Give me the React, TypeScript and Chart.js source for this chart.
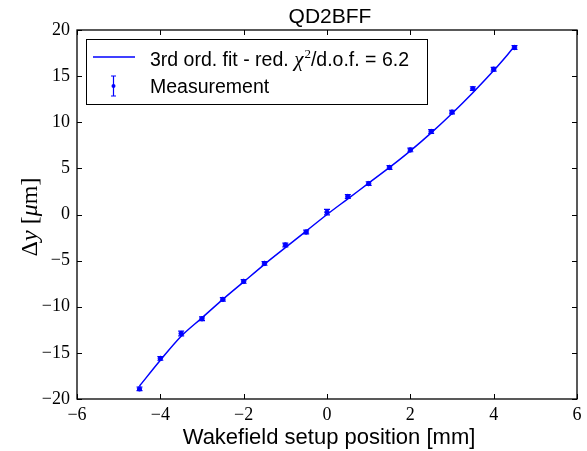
import { useEffect, useRef } from "react";
import { Chart, registerables } from "chart.js";
Chart.register(...registerables);

const positions = [-4.5, -4.0, -3.5, -3.0, -2.5, -2.0, -1.5, -1.0, -0.5, 0.0, 0.5, 1.0, 1.5, 2.0, 2.5, 3.0, 3.5, 4.0, 4.5];
const measured = [-18.9, -15.6, -12.9, -11.3, -9.2, -7.25, -5.3, -3.3, -1.9, 0.25, 1.95, 3.35, 5.1, 7.0, 9.0, 11.1, 13.65, 15.75, 18.1];
const errors = [0.2, 0.2, 0.25, 0.2, 0.2, 0.2, 0.2, 0.2, 0.2, 0.3, 0.2, 0.2, 0.2, 0.2, 0.2, 0.2, 0.2, 0.2, 0.2];
const fitPositions = [-4.5, -4.0, -3.5, -3.0, -2.5, -2.0, -1.5, -1.0, -0.5, 0.0, 0.5, 1.0, 1.5, 2.0, 2.5, 3.0, 3.5, 4.0, 4.5];
const fitValues = [-18.6, -15.8, -13.2, -11.2, -9.2, -7.3, -5.4, -3.6, -1.8, 0.0, 1.7, 3.4, 5.1, 6.9, 8.85, 10.95, 13.2, 15.6, 18.2];
const xTicks = [-6, -4, -2, 0, 2, 4, 6];
const yTicks = [-20, -15, -10, -5, 0, 5, 10, 15, 20];

const titleText = "QD2BFF";
const xTitle = "Wakefield setup position [mm]";
const fitLabelA = "3rd ord. fit - red. ";
const fitLabelB = "/d.o.f. = 6.2";
const measLabel = "Measurement";

const BLUE = "#0000ff";
const SERIF = "'Liberation Serif', 'DejaVu Serif', serif";
const SANS = "'Liberation Sans', Arial, sans-serif";

const fmt = (v: number) => (v < 0 ? "\u2212" + Math.abs(v) : String(v));

const overlay = {
  id: "overlay",
  afterDatasetsDraw(chart: any) {
    const ctx = chart.ctx;
    const xs = chart.scales.x;
    const ys = chart.scales.y;
    const a = chart.chartArea;
    ctx.save();
    // error bars
    ctx.strokeStyle = BLUE;
    ctx.lineWidth = 1.2;
    positions.forEach((p, i) => {
      const px = xs.getPixelForValue(p);
      const y1 = ys.getPixelForValue(measured[i] - errors[i]);
      const y2 = ys.getPixelForValue(measured[i] + errors[i]);
      ctx.beginPath();
      ctx.moveTo(px, y1);
      ctx.lineTo(px, y2);
      ctx.moveTo(px - 3, y1);
      ctx.lineTo(px + 3, y1);
      ctx.moveTo(px - 3, y2);
      ctx.lineTo(px + 3, y2);
      ctx.stroke();
    });
    // frame
    ctx.strokeStyle = "#000";
    ctx.lineWidth = 1.3;
    ctx.strokeRect(a.left, a.top, a.right - a.left, a.bottom - a.top);
    // inward ticks
    ctx.lineWidth = 1;
    const tl = 5;
    xTicks.forEach((v) => {
      const px = Math.round(xs.getPixelForValue(v)) + 0.5;
      ctx.beginPath();
      ctx.moveTo(px, a.bottom);
      ctx.lineTo(px, a.bottom - tl);
      ctx.moveTo(px, a.top);
      ctx.lineTo(px, a.top + tl);
      ctx.stroke();
    });
    yTicks.forEach((v) => {
      const py = Math.round(ys.getPixelForValue(v)) + 0.5;
      ctx.beginPath();
      ctx.moveTo(a.left, py);
      ctx.lineTo(a.left + tl, py);
      ctx.moveTo(a.right, py);
      ctx.lineTo(a.right - tl, py);
      ctx.stroke();
    });
    // title
    ctx.fillStyle = "#000";
    ctx.textAlign = "center";
    ctx.textBaseline = "middle";
    ctx.font = `21px ${SANS}`;
    ctx.fillText(titleText, 330, 17);
    // x title
    ctx.font = `22px ${SANS}`;
    ctx.fillText(xTitle, 329, 438);
    // y title (rotated, mixed styles)
    const fs = 24;
    const parts: [string, string][] = [
      ["\u0394", `${fs}px ${SERIF}`],
      ["y", `italic ${fs}px ${SERIF}`],
      [" [", `${fs}px ${SERIF}`],
      ["\u03bc", `italic ${fs}px ${SERIF}`],
      ["m]", `${fs}px ${SERIF}`],
    ];
    let total = 0;
    parts.forEach(([t, f]) => {
      ctx.font = f;
      total += ctx.measureText(t).width;
    });
    ctx.save();
    ctx.translate(31, 217);
    ctx.rotate(-Math.PI / 2);
    ctx.textAlign = "left";
    let cx = -total / 2;
    parts.forEach(([t, f]) => {
      ctx.font = f;
      ctx.fillText(t, cx, 0);
      cx += ctx.measureText(t).width;
    });
    ctx.restore();
    // legend
    const lx = 86, ly = 39, lw = 341, lh = 65;
    ctx.fillStyle = "#fff";
    ctx.fillRect(lx, ly, lw, lh);
    ctx.strokeStyle = "#000";
    ctx.lineWidth = 1;
    ctx.strokeRect(lx + 0.5, ly + 0.5, lw, lh);
    ctx.strokeStyle = BLUE;
    ctx.lineWidth = 1.5;
    ctx.beginPath();
    ctx.moveTo(93, 57);
    ctx.lineTo(135, 57);
    ctx.stroke();
    ctx.lineWidth = 1.2;
    ctx.beginPath();
    ctx.moveTo(113.5, 76);
    ctx.lineTo(113.5, 96);
    ctx.moveTo(111, 76);
    ctx.lineTo(116, 76);
    ctx.moveTo(111, 96);
    ctx.lineTo(116, 96);
    ctx.stroke();
    ctx.fillStyle = BLUE;
    ctx.beginPath();
    ctx.arc(113.5, 86, 2, 0, Math.PI * 2);
    ctx.fill();
    ctx.fillStyle = "#000";
    ctx.textAlign = "left";
    ctx.textBaseline = "alphabetic";
    ctx.font = `19.5px ${SANS}`;
    let tx = 150;
    ctx.fillText(fitLabelA, tx, 66);
    tx += ctx.measureText(fitLabelA).width;
    ctx.font = `italic 21px ${SERIF}`;
    ctx.fillText("\u03c7", tx, 66);
    tx += ctx.measureText("\u03c7").width + 1;
    ctx.font = `13px ${SERIF}`;
    ctx.fillText("2", tx, 58);
    tx += ctx.measureText("2").width;
    ctx.font = `19.5px ${SANS}`;
    ctx.fillText(fitLabelB, tx, 66);
    ctx.fillText(measLabel, 150, 93);
    ctx.restore();
  },
};

export default function App() {
  const ref = useRef<HTMLCanvasElement | null>(null);
  useEffect(() => {
    document.body.style.margin = "0";
    const chart = new Chart(ref.current as HTMLCanvasElement, {
      type: "scatter",
      data: {
        datasets: [
          {
            type: "line",
            label: "fit",
            data: fitPositions.map((x, i) => ({ x, y: fitValues[i] })),
            borderColor: BLUE,
            borderWidth: 1.5,
            pointRadius: 0,
            cubicInterpolationMode: "monotone",
            fill: false,
          } as any,
          {
            label: "Measurement",
            data: positions.map((x, i) => ({ x, y: measured[i] })),
            backgroundColor: BLUE,
            borderColor: BLUE,
            pointRadius: 2.2,
            showLine: false,
          },
        ],
      },
      options: {
        animation: false,
        responsive: false,
        devicePixelRatio: 1,
        layout: { padding: { left: 0, top: 30, right: 10, bottom: 0 } },
        plugins: { legend: { display: false }, tooltip: { enabled: false }, title: { display: false } },
        scales: {
          x: {
            type: "linear",
            min: -6,
            max: 6,
            afterBuildTicks: (s: any) => {
              s.ticks = xTicks.map((v) => ({ value: v }));
            },
            afterFit: (s: any) => {
              s.height = 52;
            },
            grid: { display: false, drawTicks: false },
            border: { display: false },
            ticks: {
              padding: 5,
              color: "#000",
              font: { family: SERIF, size: 18 },
              callback: (v: any) => fmt(Number(v)),
              maxRotation: 0,
            },
          },
          y: {
            type: "linear",
            min: -20,
            max: 20,
            afterBuildTicks: (s: any) => {
              s.ticks = yTicks.map((v) => ({ value: v }));
            },
            afterFit: (s: any) => {
              s.width = 77;
            },
            grid: { display: false, drawTicks: false },
            border: { display: false },
            ticks: {
              padding: 7,
              color: "#000",
              font: { family: SERIF, size: 18 },
              callback: (v: any) => fmt(Number(v)),
            },
          },
        },
      },
      plugins: [overlay],
    } as any);
    return () => chart.destroy();
  }, []);
  return <canvas ref={ref} width={587} height={451} style={{ display: "block" }} />;
}
